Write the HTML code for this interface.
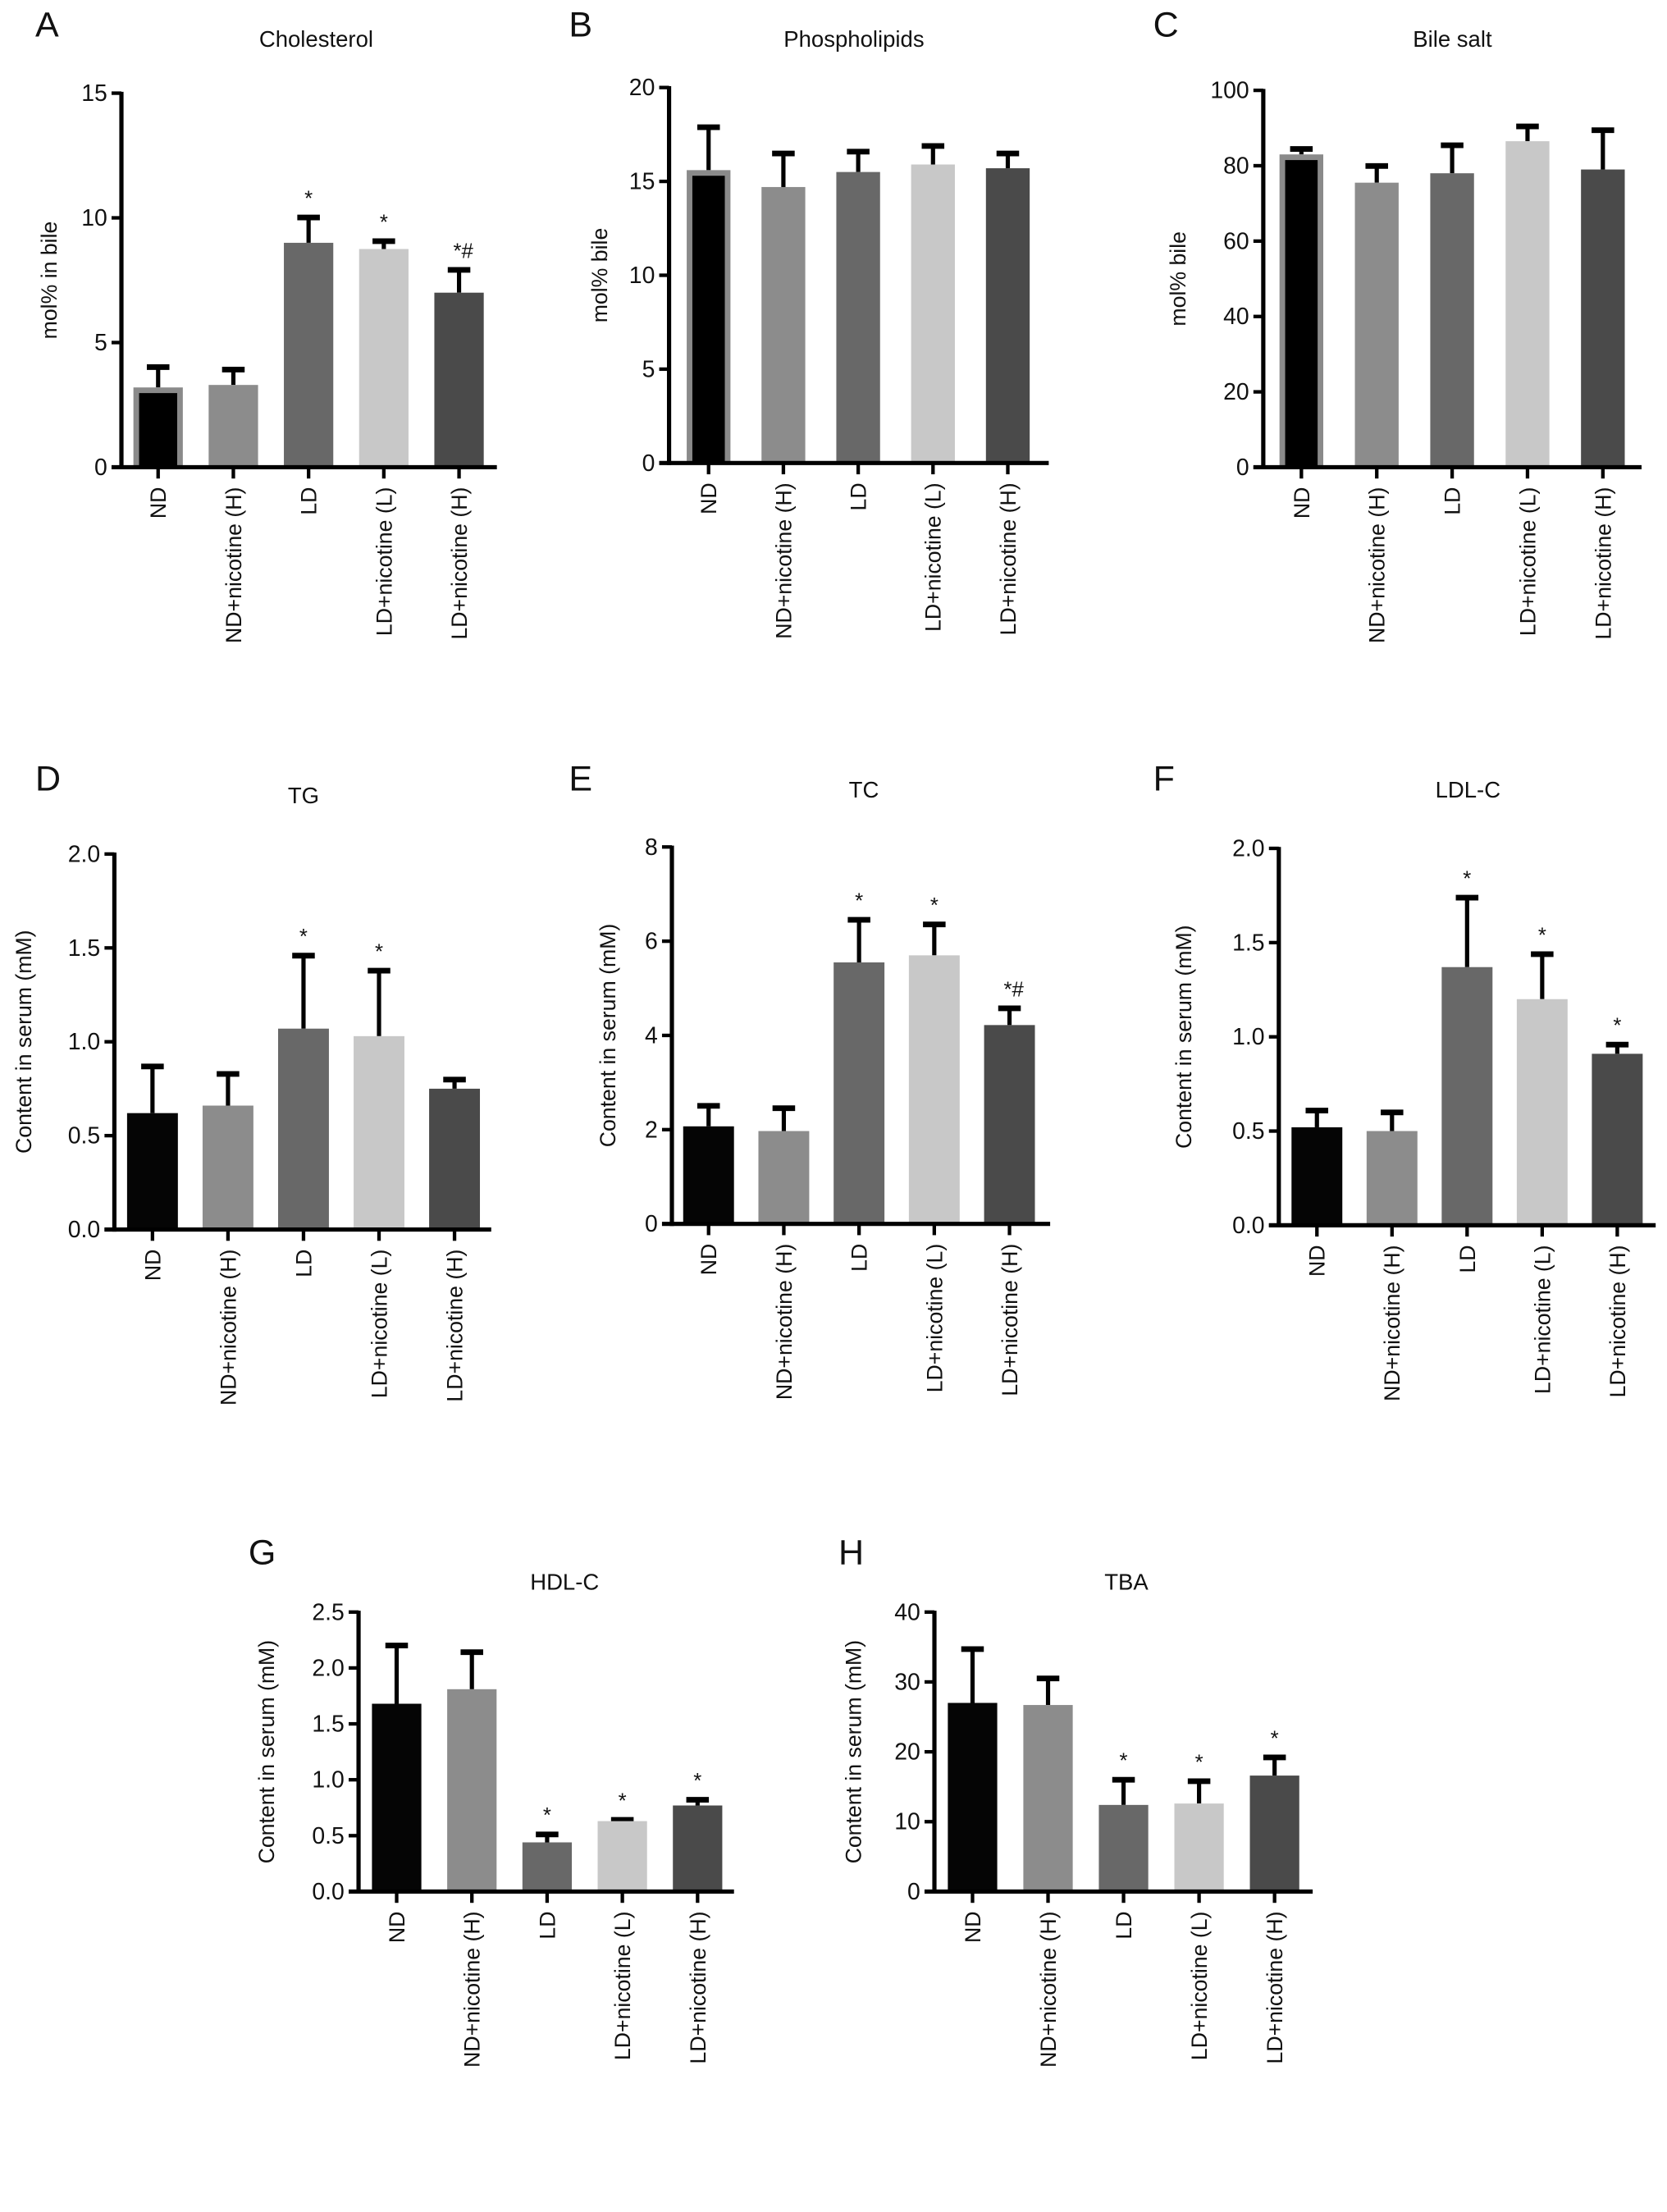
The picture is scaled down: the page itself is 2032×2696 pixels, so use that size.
<!DOCTYPE html>
<html><head><meta charset="utf-8"><style>
html,body{margin:0;padding:0;background:#fff}
svg{display:block}
text{font-family:"Liberation Sans",Arial,sans-serif;fill:#111}
</style></head><body>
<svg id="fig" width="2032" height="2696" viewBox="0 0 1181 1567" xmlns="http://www.w3.org/2000/svg"></svg>
<script>
const categories = ["ND","ND+nicotine (H)","LD","LD+nicotine (L)","LD+nicotine (H)"];
const colors = ["#050505","#8c8c8c","#686868","#c8c8c8","#4a4a4a"];

const cholVals = [3.2,3.3,9.0,8.75,7.0];
const cholErr = [4.1,4.0,10.1,9.15,8.0];
const cholSig = ["","","*","*","*#"];
const cholTicks = [0,5,10,15];

const phosVals = [15.6,14.7,15.5,15.9,15.7];
const phosErr = [18.0,16.6,16.7,17.0,16.6];
const phosSig = ["","","","",""];
const phosTicks = [0,5,10,15,20];

const bileVals = [83,75.5,78,86.5,79];
const bileErr = [85,80.5,86,91,90];
const bileSig = ["","","","",""];
const bileTicks = [0,20,40,60,80,100];

const tgVals = [0.62,0.66,1.07,1.03,0.75];
const tgErr = [0.88,0.84,1.47,1.39,0.81];
const tgSig = ["","","*","*",""];
const tgTicks = ["0.0","0.5","1.0","1.5","2.0"];

const tcVals = [2.07,1.97,5.55,5.7,4.22];
const tcErr = [2.55,2.5,6.5,6.4,4.62];
const tcSig = ["","","*","*","*#"];
const tcTicks = [0,2,4,6,8];

const ldlVals = [0.52,0.50,1.37,1.20,0.91];
const ldlErr = [0.62,0.61,1.75,1.45,0.97];
const ldlSig = ["","","*","*","*"];
const ldlTicks = ["0.0","0.5","1.0","1.5","2.0"];

const hdlVals = [1.68,1.81,0.44,0.63,0.77];
const hdlErr = [2.22,2.16,0.53,0.66,0.84];
const hdlSig = ["","","*","*","*"];
const hdlTicks = ["0.0","0.5","1.0","1.5","2.0","2.5"];

const tbaVals = [27,26.7,12.4,12.6,16.6];
const tbaErr = [35,30.8,16.3,16.1,19.5];
const tbaSig = ["","","*","*","*"];
const tbaTicks = [0,10,20,30,40];

const NS="http://www.w3.org/2000/svg";
const svg=document.getElementById('fig');
function mk(tag,attrs,parent,txt){const e=document.createElementNS(NS,tag);for(const k in attrs)e.setAttribute(k,attrs[k]);if(txt!==undefined)e.textContent=txt;(parent||svg).appendChild(e);return e;}

function panel(p){
  const g=mk('g',{});
  
  
  const ticks=p.ticks.map(Number);
  const vmax=ticks[ticks.length-1];
  const y=v=>p.y0-(v/vmax)*(p.y0-p.ytop);
  const x=i=>p.x0+p.first+i*p.step;
  const L=mk('text',{x:p.lx,y:p.ly,'font-size':25},g,p.id);
  
  
  const T=mk('text',{x:p.tx,y:p.ty,'font-size':16,'text-anchor':'middle'},g,p.title);
  
  
  const ay=(p.y0+p.ytop)/2;
  const Y=mk('text',{x:p.yx,y:ay,'font-size':15.5,'text-anchor':'middle',transform:`rotate(-90 ${p.yx} ${ay})`},g,p.ylabel);
  
  
  p.vals.forEach((v,i)=>{
    const cx=x(i),w=p.bw;
    const er=mk('line',{x1:cx,x2:cx,y1:y(v),y2:y(p.err[i]),stroke:'#000','stroke-width':3},g);
    
    
    const cap=mk('line',{x1:cx-8,x2:cx+8,y1:y(p.err[i])+1.5,y2:y(p.err[i])+1.5,stroke:'#000','stroke-width':4},g);
    
    
    const b=mk('rect',{x:cx-w/2,y:y(v),width:w,height:p.y0-y(v),fill:colors[i]},g);
    
    
    if(i===0&&p.inner){
      const ib=mk('rect',{x:cx-w/2+4,y:y(v)+4,width:w-8,height:p.y0-y(v)-4,fill:'#000'},g);
      
      
      b.setAttribute('fill','#8a8a8a');
    }
    if(p.sig[i]){
      const s=mk('text',{x:cx+(p.sig[i].length>1?3:0),y:y(p.err[i])-7,'font-size':15,'text-anchor':'middle'},g,p.sig[i]);
      
      
    }
    const tk=mk('line',{x1:cx,x2:cx,y1:p.y0,y2:p.y0+8,stroke:'#000','stroke-width':2.5},g);
    
    
    const lx=cx+5.5, ly=p.y0+14;
    const xl=mk('text',{x:lx,y:ly,'font-size':15.5,'text-anchor':'end',transform:`rotate(-90 ${lx} ${ly})`},g,categories[i]);
    
    
  });
  const ya=mk('line',{x1:p.x0,x2:p.x0,y1:p.ytop-1,y2:p.y0+1.5,stroke:'#000','stroke-width':3},g);
  
  
  const xa=mk('line',{x1:p.x0-7,x2:p.xend,y1:p.y0,y2:p.y0,stroke:'#000','stroke-width':3},g);
  
  
  p.ticks.forEach(t=>{
    const ty=y(Number(t));
    const tl=mk('line',{x1:p.x0-7,x2:p.x0,y1:ty,y2:ty,stroke:'#000','stroke-width':2.5},g);
    
    
    const tt=mk('text',{x:p.x0-10,y:ty+5.5,'font-size':16.5,'text-anchor':'end'},g,String(t));
    
    
  });
}

panel({id:'A',title:'Cholesterol',ylabel:'mol% in bile',vals:cholVals,err:cholErr,sig:cholSig,ticks:cholTicks,
  x0:86,y0:331,ytop:66,xend:352,first:26,step:53.3,bw:35,lx:25,ly:26,tx:224,ty:33,yx:40,inner:true});
panel({id:'B',title:'Phospholipids',ylabel:'mol% bile',vals:phosVals,err:phosErr,sig:phosSig,ticks:phosTicks,
  x0:474,y0:328,ytop:62,xend:743,first:28,step:53,bw:31,lx:403,ly:26,tx:605,ty:33,yx:430,inner:true});
panel({id:'C',title:'Bile salt',ylabel:'mol% bile',vals:bileVals,err:bileErr,sig:bileSig,ticks:bileTicks,
  x0:895,y0:331,ytop:64,xend:1163,first:27,step:53.4,bw:31,lx:817,ly:26,tx:1029,ty:33,yx:840,inner:true});
panel({id:'D',title:'TG',ylabel:'Content in serum (mM)',vals:tgVals,err:tgErr,sig:tgSig,ticks:tgTicks,
  x0:81,y0:871,ytop:605,xend:348,first:27,step:53.5,bw:36,lx:25,ly:560,tx:215,ty:569,yx:22});
panel({id:'E',title:'TC',ylabel:'Content in serum (mM)',vals:tcVals,err:tcErr,sig:tcSig,ticks:tcTicks,
  x0:476,y0:867,ytop:600,xend:744,first:26,step:53.3,bw:36,lx:403,ly:560,tx:612,ty:565,yx:436});
panel({id:'F',title:'LDL-C',ylabel:'Content in serum (mM)',vals:ldlVals,err:ldlErr,sig:ldlSig,ticks:ldlTicks,
  x0:906,y0:868,ytop:601,xend:1173,first:27,step:53.2,bw:36,lx:817,ly:560,tx:1040,ty:565,yx:844});
panel({id:'G',title:'HDL-C',ylabel:'Content in serum (mM)',vals:hdlVals,err:hdlErr,sig:hdlSig,ticks:hdlTicks,
  x0:254,y0:1340,ytop:1142,xend:520,first:27,step:53.3,bw:35,lx:176,ly:1108,tx:400,ty:1126,yx:194});
panel({id:'H',title:'TBA',ylabel:'Content in serum (mM)',vals:tbaVals,err:tbaErr,sig:tbaSig,ticks:tbaTicks,
  x0:662,y0:1340,ytop:1142,xend:930,first:27,step:53.5,bw:35,lx:594,ly:1108,tx:798,ty:1126,yx:610});
</script>
</body></html>
